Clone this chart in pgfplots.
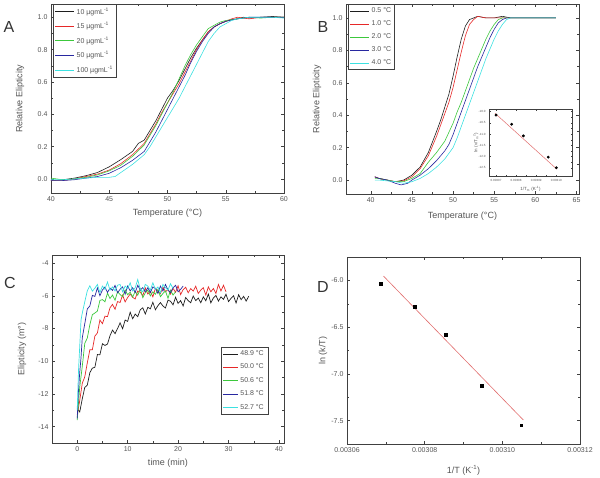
\documentclass[border=0pt]{standalone}
\usepackage{fontspec}
\setmainfont{Liberation Sans}
\usepackage{pgfplots}
\pgfplotsset{compat=1.18}
\definecolor{txt}{RGB}{85,85,85}
\definecolor{cblack}{RGB}{30,30,30}
\definecolor{cred}{RGB}{230,40,40}
\definecolor{cgreen}{RGB}{60,200,60}
\definecolor{cblue}{RGB}{40,40,160}
\definecolor{ccyan}{RGB}{60,225,225}
\definecolor{fitred}{RGB}{225,110,110}

\pgfplotsset{
  panel/.style={
    scale only axis, anchor=north west,
    axis line style={black!75, line width=0.5pt},
    every tick/.style={black!75, line width=0.4pt},
    tick align=inside, xtick pos=both, ytick pos=both,
    xticklabel pos=lower, yticklabel pos=left,
    major tick length=3pt, minor tick length=1.8pt, minor tick num=1,
    tick label style={font=\fontsize{7}{8}\selectfont, text=txt},
    /pgf/number format/assume math mode=true,
    label style={font=\fontsize{9}{10}\selectfont, text=txt},
    legend style={font=\fontsize{7}{8}\selectfont, text=txt, draw=black!75,
      inner xsep=1.5pt, inner ysep=1.5pt, row sep=2.6pt, cells={anchor=west}},
    legend image code/.code={\draw[##1, line width=0.6pt] (0pt,0pt) -- (19pt,0pt);},
    every axis plot/.append style={line width=0.6pt, mark=none},
  },
  onedec/.style={/pgf/number format/fixed, /pgf/number format/fixed zerofill,
    /pgf/number format/precision=1},
}

\begin{document}
\begin{tikzpicture}
\useasboundingbox (0pt,0pt) rectangle (600pt,-477pt);

% ---------------- A ----------------
\begin{axis}[panel, at={(51pt,-4pt)}, width=233pt, height=189pt,
  xmin=40, xmax=60, ymin=-0.087, ymax=1.082,
  xtick={40,45,...,60}, ytick={0,0.2,0.4,0.6,0.8,1.0},
  yticklabel style={onedec},
  xlabel={Temperature (°C)}, ylabel={Relative Elipticity},
  xlabel style={at={(axis description cs:0.5,-0.106)}, anchor=center},
  ylabel style={at={(axis description cs:-0.133,0.5)}, anchor=center},
  legend style={at={(0.01,1)}, anchor=north west},
]
\addplot[cblack] coordinates {(40,-0.01)(41,-0.005)(42,0.005)(43,0.02)(44,0.04)(45,0.075)(46,0.12)(47,0.17)(47.5,0.22)(48,0.24)(48.5,0.30)(49,0.36)(49.5,0.43)(50,0.50)(50.5,0.55)(51,0.61)(51.5,0.68)(52,0.75)(52.5,0.81)(53,0.86)(53.5,0.91)(54,0.94)(54.5,0.96)(55,0.975)(55.5,0.985)(56,0.99)(56.5,1.0)(57,0.995)(58,1.0)(59,1.005)(60,1.0)};
\addplot[cred] coordinates {(40,-0.01)(41,-0.01)(42,0.0)(43,0.015)(44,0.03)(45,0.055)(46,0.095)(47,0.15)(48,0.22)(48.5,0.28)(49,0.34)(49.5,0.41)(50,0.47)(50.5,0.53)(51,0.59)(51.5,0.66)(52,0.73)(52.5,0.80)(53,0.86)(53.5,0.91)(54,0.94)(54.5,0.96)(55,0.975)(55.5,0.99)(56,1.0)(57,0.99)(58,1.0)(59,1.0)(60,1.0)};
\addplot[cgreen] coordinates {(40,0.005)(41,-0.005)(42,0.0)(43,0.01)(44,0.025)(45,0.05)(46,0.085)(47,0.14)(48,0.21)(48.5,0.27)(49,0.33)(49.5,0.40)(50,0.47)(50.5,0.54)(51,0.62)(51.5,0.70)(52,0.77)(52.5,0.83)(53,0.88)(53.5,0.93)(54,0.95)(54.5,0.97)(55,0.98)(56,0.99)(57,1.0)(58,0.995)(59,1.0)(60,1.0)};
\addplot[cblue] coordinates {(40,-0.01)(41,-0.01)(42,-0.005)(43,0.005)(44,0.015)(45,0.035)(46,0.07)(47,0.115)(48,0.17)(48.5,0.23)(49,0.29)(49.5,0.36)(50,0.43)(50.5,0.50)(51,0.57)(51.5,0.64)(52,0.72)(52.5,0.79)(53,0.85)(53.5,0.90)(54,0.94)(54.5,0.96)(55,0.975)(56,0.99)(57,1.0)(58,1.0)(59,1.0)(60,1.0)};
\addplot[ccyan] coordinates {(40,-0.005)(41,-0.005)(42,0.0)(43,0.005)(44,0.01)(45,0.01)(45.5,0.015)(46,0.04)(47,0.09)(48,0.15)(48.5,0.20)(49,0.26)(49.5,0.32)(50,0.38)(50.5,0.44)(51,0.50)(51.5,0.57)(52,0.64)(52.5,0.71)(53,0.78)(53.5,0.85)(54,0.90)(54.5,0.94)(55,0.96)(55.5,0.98)(56,0.99)(57,1.0)(58,1.0)(59,1.0)(60,0.995)};
\legend{10 µgmL\textsuperscript{-1}, 15 µgmL\textsuperscript{-1}, 20 µgmL\textsuperscript{-1}, 50 µgmL\textsuperscript{-1}, 100 µgmL\textsuperscript{-1}}
\end{axis}

% ---------------- B ----------------
\begin{axis}[panel, at={(346pt,-4pt)}, width=233pt, height=190pt,
  xmin=37, xmax=65.3, ymin=-0.086, ymax=1.086,
  xtick={40,45,...,65}, ytick={0,0.2,0.4,0.6,0.8,1.0},
  yticklabel style={onedec},
  xlabel={Temperature (°C)}, ylabel={Relative Elipticity},
  xlabel style={at={(axis description cs:0.5,-0.116)}, anchor=center},
  ylabel style={at={(axis description cs:-0.124,0.5)}, anchor=center},
  legend style={at={(0.01,1)}, anchor=north west},
]
\addplot[cblack] coordinates {(40.5,0.02)(41,0.01)(42,0.0)(43,-0.01)(44,0.0)(45,0.03)(46,0.08)(47,0.17)(48,0.30)(48.5,0.37)(49,0.45)(49.5,0.53)(50,0.64)(50.5,0.76)(51,0.87)(51.5,0.95)(52,0.99)(52.5,1.0)(53,1.01)(54,1.0)(55,1.0)(56,1.01)(57,1.0)(58,1.0)(59,1.0)(60,1.0)(61,1.0)(62,1.0)(62.5,1.0)};
\addplot[cred] coordinates {(40.5,0.02)(41,0.01)(42,0.0)(43,-0.01)(44,-0.005)(45,0.02)(46,0.07)(47,0.15)(48,0.27)(48.5,0.34)(49,0.41)(49.5,0.48)(50,0.57)(50.5,0.68)(51,0.79)(51.5,0.89)(52,0.96)(52.5,0.99)(53,1.01)(54,1.0)(55,1.0)(56,1.0)(57,1.0)(58,1.0)(59,1.0)(60,1.0)(61,1.0)(62,1.0)(62.5,1.0)};
\addplot[cgreen] coordinates {(40.5,0.01)(41,0.01)(42,0.0)(43,-0.01)(44,-0.01)(45,0.01)(46,0.04)(47,0.11)(48,0.17)(49,0.24)(50,0.35)(50.5,0.42)(51,0.48)(51.5,0.55)(52,0.62)(52.5,0.69)(53,0.75)(53.5,0.81)(54,0.87)(54.5,0.92)(55,0.96)(55.5,0.99)(56,1.0)(57,1.0)(58,1.0)(59,1.0)(60,1.0)(61,1.0)(62,1.0)(62.5,1.0)};
\addplot[cblue] coordinates {(40.5,0.02)(41,0.01)(42,0.0)(43,-0.02)(43.7,-0.03)(44.5,-0.02)(45,0.0)(46,0.03)(47,0.07)(48,0.12)(49,0.18)(49.5,0.22)(50,0.28)(50.5,0.35)(51,0.42)(51.5,0.49)(52,0.56)(52.5,0.63)(53,0.70)(53.5,0.76)(54,0.82)(54.5,0.88)(55,0.93)(55.5,0.97)(56,0.99)(56.5,1.0)(57,1.0)(58,1.0)(59,1.0)(60,1.0)(61,1.0)(62,1.0)(62.5,1.0)};
\addplot[ccyan] coordinates {(40.5,0.0)(41,0.0)(42,-0.005)(43,-0.01)(44,-0.02)(45,-0.01)(46,0.01)(47,0.04)(48,0.08)(49,0.13)(50,0.20)(50.5,0.26)(51,0.33)(51.5,0.40)(52,0.47)(52.5,0.54)(53,0.61)(53.5,0.68)(54,0.75)(54.5,0.81)(55,0.87)(55.5,0.92)(56,0.96)(56.5,0.99)(57,1.0)(58,1.0)(59,1.0)(60,1.0)(61,1.0)(62,1.0)(62.5,1.0)};
\legend{0.5 °C, 1.0 °C, 2.0 °C, 3.0 °C, 4.0 °C}
\end{axis}

% ---------------- B inset ----------------
\begin{axis}[panel, at={(489pt,-109pt)}, width=83pt, height=67pt,
  axis background/.style={fill=white},
  xmin=0.0030665, xmax=0.0031078, ymin=-12.87, ymax=-9.88,
  major tick length=1.5pt, minor tick length=1pt,
  xtick={0.00307,0.00308,0.00309,0.0031}, ytick={-10,-10.5,-11,-11.5,-12,-12.5},
  scaled x ticks=false,
  xticklabel style={/pgf/number format/fixed, /pgf/number format/fixed zerofill, /pgf/number format/precision=5},
  yticklabel style={onedec},
  tick label style={font=\fontsize{3}{3.5}\selectfont},
  label style={font=\fontsize{4.5}{5}\selectfont},
  xlabel={1/T\textsubscript{m} (K\textsuperscript{-1})}, ylabel={ln (v/T\textsubscript{m}\textsuperscript{2})},
  xlabel style={at={(axis description cs:0.5,-0.2)}, anchor=center},
  ylabel style={at={(axis description cs:-0.16,0.5)}, anchor=center},
]
\addplot[fitred, line width=0.5pt] coordinates {(0.0030695,-10.07)(0.0031003,-12.57)};
\addplot[only marks, mark=*, mark size=1.1pt, black] coordinates {(0.00307,-10.15)(0.0030778,-10.56)(0.0030836,-11.08)(0.0030960,-12.03)(0.0031,-12.5)};
\end{axis}

% ---------------- C ----------------
\begin{axis}[panel, at={(52pt,-255pt)}, width=232pt, height=188pt,
  xmin=-5, xmax=41, ymin=-15, ymax=-3.5,
  xtick={0,10,...,40}, ytick={-14,-12,...,-4},
  xlabel={time (min)}, ylabel={Elipticity (m°)},
  xlabel style={at={(axis description cs:0.5,-0.106)}, anchor=center},
  ylabel style={at={(axis description cs:-0.129,0.5)}, anchor=center},
  legend style={at={(0.931,0.511)}, anchor=north east, inner xsep=2pt, row sep=3pt},
  legend image code/.code={\draw[#1, line width=0.6pt] (0pt,0pt) -- (15pt,0pt);},
  every axis plot/.append style={line width=0.7pt},
]
\addplot[cblack] coordinates {(0,-12.9)(0.5,-13.1)(1,-12.3)(1.5,-11.6)(2,-11.46)(2.5,-10.7)(3,-10.42)(3.5,-10.37)(4,-9.59)(4.5,-9.6)(5,-8.93)(5.5,-9.03)(6,-8.95)(6.5,-8.44)(7,-8.09)(7.5,-8.31)(8,-8.0)(8.5,-7.65)(9,-8.01)(9.5,-7.48)(10,-7.56)(10.5,-7.0)(11,-7.4)(11.5,-7.11)(12,-7.27)(12.5,-6.85)(13,-6.73)(13.5,-7.11)(14,-6.7)(14.5,-6.79)(15,-6.39)(15.5,-6.85)(16,-6.6)(16.5,-6.41)(17,-6.62)(17.5,-6.74)(18,-6.26)(18.5,-6.33)(19,-6.55)(19.5,-6.08)(20,-6.46)(20.5,-6.29)(21,-6.62)(21.5,-6.1)(22,-6.29)(22.5,-6.42)(23,-6.01)(23.5,-6.29)(24,-6.13)(24.5,-6.42)(25,-6.06)(25.5,-6.3)(26,-5.89)(26.5,-6.43)(27,-6.13)(27.5,-5.97)(28,-6.32)(28.5,-6.06)(29,-6.21)(29.5,-5.9)(30,-6.35)(30.5,-6.15)(31,-5.99)(31.5,-6.44)(32,-5.93)(32.5,-6.23)(33,-6.03)(33.5,-6.32)(34,-6.02)};
\addplot[cred] coordinates {(0,-13.3)(0.5,-12.4)(1,-11.35)(1.5,-10.95)(2,-10.1)(2.5,-9.3)(3,-9.3)(3.5,-8.46)(4,-8.27)(4.5,-7.48)(5,-7.7)(5.5,-7.24)(6,-7.27)(6.5,-6.73)(7,-6.52)(7.5,-6.82)(8,-6.35)(8.5,-6.4)(9,-5.95)(9.5,-6.37)(10,-6.1)(10.5,-5.89)(11,-6.09)(11.5,-6.19)(12,-5.7)(12.5,-5.77)(13,-5.99)(13.5,-5.51)(14,-5.89)(14.5,-5.72)(15,-6.06)(15.5,-5.54)(16,-5.73)(16.5,-5.87)(17,-5.46)(17.5,-5.75)(18,-5.6)(18.5,-5.89)(19,-5.54)(19.5,-5.78)(20,-5.38)(20.5,-5.92)(21,-5.62)(21.5,-5.47)(22,-5.81)(22.5,-5.56)(23,-5.71)(23.5,-5.41)(24,-5.85)(24.5,-5.65)(25,-5.5)(25.5,-5.95)(26,-5.45)(26.5,-5.75)(27,-5.55)(27.5,-5.85)(28,-5.3)(28.5,-5.7)(29,-5.35)(29.5,-5.75)};
\addplot[cgreen] coordinates {(0,-13.6)(0.5,-11.58)(1,-10.32)(1.5,-8.9)(2,-8.58)(2.5,-7.77)(3,-7.15)(3.5,-7.05)(4,-6.93)(4.5,-6.28)(5,-6.23)(5.5,-6.36)(6,-5.83)(6.5,-6.16)(7,-5.95)(7.5,-6.27)(8,-5.74)(8.5,-5.92)(9,-6.05)(9.5,-5.64)(10,-5.93)(10.5,-5.78)(11,-6.07)(11.5,-5.72)(12,-5.96)(12.5,-5.56)(13,-6.11)(13.5,-5.81)(14,-5.65)(14.5,-6.0)(15,-5.75)(15.5,-5.9)(16,-5.6)(16.5,-6.05)(17,-5.85)(17.5,-5.7)(18,-6.15)(18.5,-5.65)(19,-5.95)(19.5,-5.75)};
\addplot[cblue] coordinates {(0,-13.5)(0.25,-11.78)(0.5,-10.68)(0.75,-9.8)(1,-8.57)(1.5,-7.7)(2,-6.8)(2.5,-6.62)(3,-5.97)(3.5,-6.03)(4,-5.51)(4.5,-5.99)(5,-5.64)(5.5,-5.46)(6,-5.79)(6.5,-5.52)(7,-5.67)(7.5,-5.36)(8,-5.81)(8.5,-5.6)(9,-5.45)(9.5,-5.9)(10,-5.4)(10.5,-5.7)(11,-5.5)(11.5,-5.8)(12,-5.35)(12.5,-5.65)(13,-5.5)(13.5,-5.75)(14,-5.5)(14.5,-5.8)(15,-5.45)(15.5,-5.55)(16,-5.85)(16.5,-5.4)(17,-5.7)(17.5,-5.3)(18,-5.65)(18.5,-5.8)(19,-5.5)(19.5,-5.35)(20,-5.75)(20.5,-5.6)(21,-5.4)};
\addplot[ccyan] coordinates {(0,-13.0)(0.25,-10.6)(0.5,-9.08)(0.75,-7.49)(1,-7.06)(1.5,-6.36)(2,-5.69)(2.5,-5.38)(3,-5.71)(3.5,-5.53)(4,-5.3)(4.5,-5.8)(5,-5.4)(5.5,-5.6)(6,-5.15)(6.5,-5.65)(7,-5.45)(7.5,-5.7)(8,-5.35)(8.5,-5.3)(9,-5.75)(9.5,-5.4)(10,-5.55)(10.5,-5.2)(11,-5.7)(11.5,-5.5)(12,-5.0)(12.5,-5.6)(13,-5.75)(13.5,-5.3)(14,-5.4)(14.5,-5.65)(15,-5.2)(15.5,-5.6)(16,-5.45)(16.5,-5.8)(17,-5.3)(17.5,-5.5)(18,-5.65)(18.5,-5.25)(19,-5.55)};
\legend{48.9 °C, 50.0 °C, 50.6 °C, 51.8 °C, 52.7 °C}
\end{axis}

% ---------------- D ----------------
\begin{axis}[panel, at={(347pt,-257pt)}, width=233pt, height=187pt,
  xmin=0.00306, xmax=0.00312, ymin=-7.75, ymax=-5.75,
  xtick={0.00306,0.00308,0.0031,0.00312}, ytick={-7.5,-7,-6.5,-6},
  scaled x ticks=false,
  xticklabel style={/pgf/number format/fixed, /pgf/number format/fixed zerofill, /pgf/number format/precision=5},
  yticklabel style={onedec},
  xlabel={1/T (K\textsuperscript{-1})}, ylabel={ln (k/T)},
  xlabel style={at={(axis description cs:0.5,-0.139)}, anchor=center},
  ylabel style={at={(axis description cs:-0.103,0.5)}, anchor=center},
]
\addplot[fitred, line width=0.6pt] coordinates {(0.0030694,-5.954)(0.0031054,-7.493)};
\addplot[only marks, mark=square*, mark size=1.3pt, black] coordinates {(0.0030687,-6.035)(0.0030774,-6.283)(0.0030855,-6.58)(0.0030947,-7.13)(0.0031049,-7.55)};
\end{axis}

% panel letters
\node[font=\fontsize{16}{18}\selectfont, text=black!80] at (9pt,-27pt) {A};
\node[font=\fontsize{16}{18}\selectfont, text=black!80] at (323pt,-27pt) {B};
\node[font=\fontsize{16}{18}\selectfont, text=black!80] at (10pt,-283pt) {C};
\node[font=\fontsize{16}{18}\selectfont, text=black!80] at (323pt,-287pt) {D};
\end{tikzpicture}
\end{document}
